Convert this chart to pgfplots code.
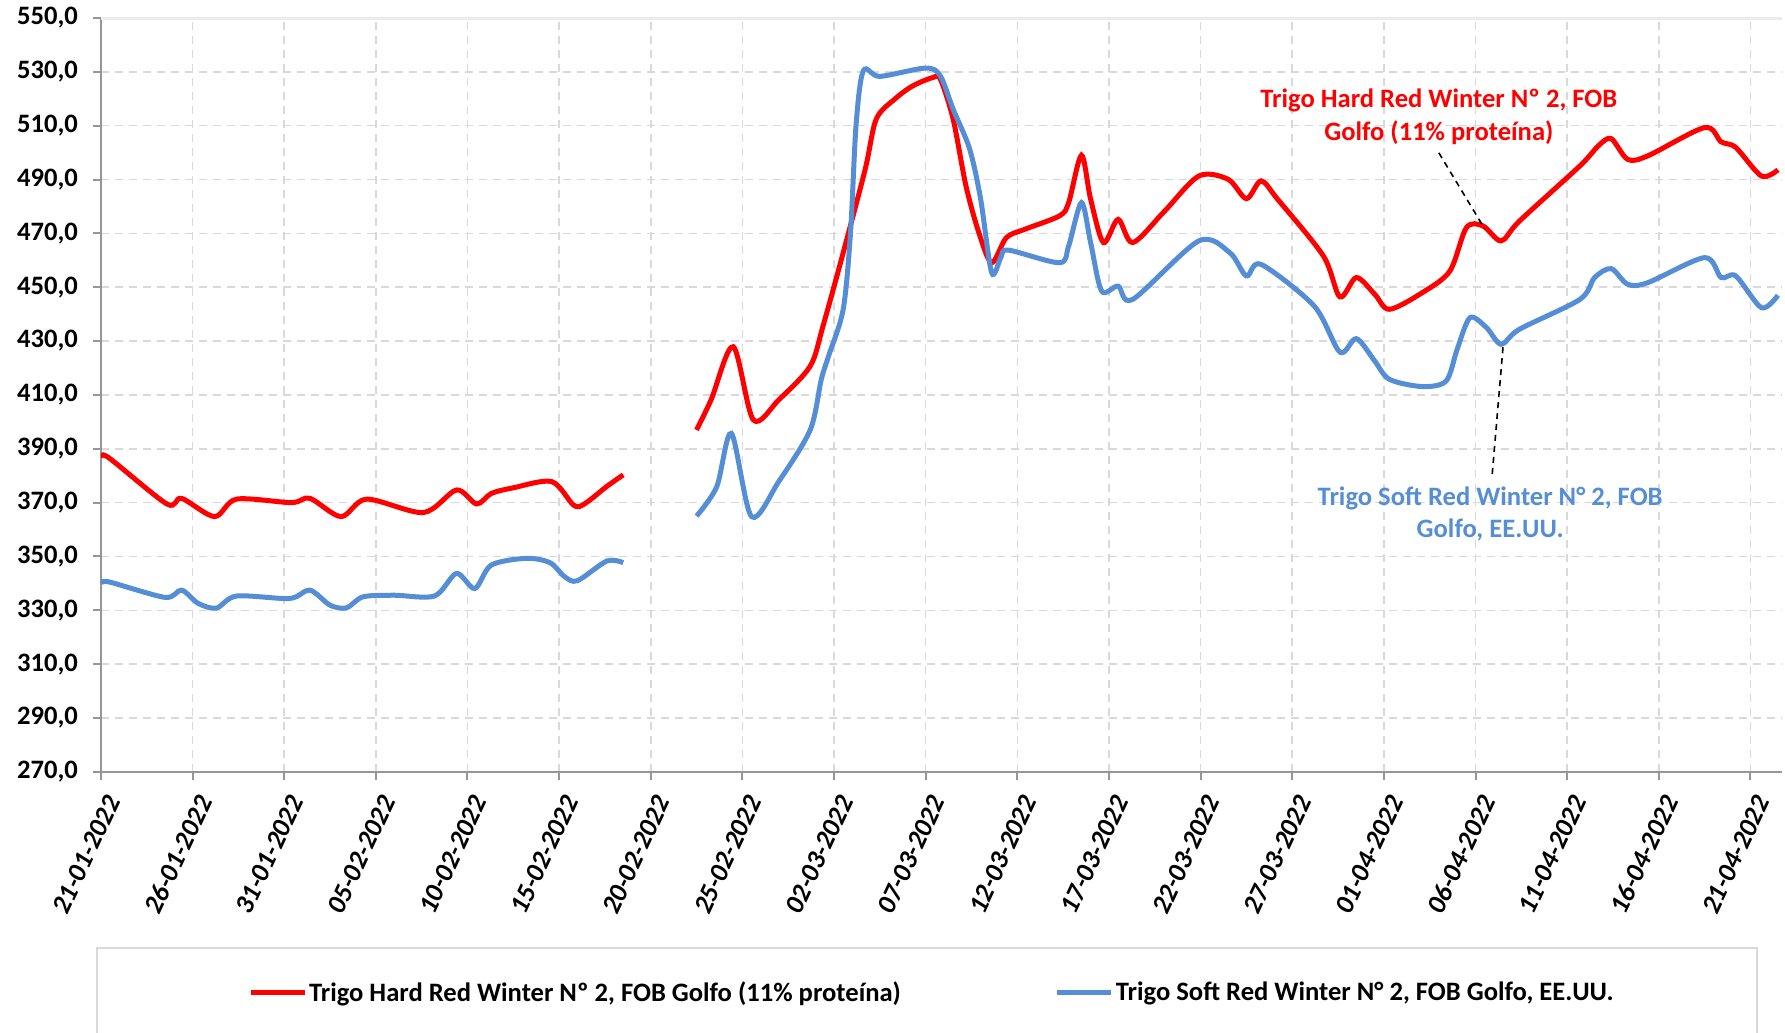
\documentclass[border=0pt]{standalone}
\usepackage{fontspec}
\setmainfont{Carlito}
\usepackage{pgfplots}
\pgfplotsset{compat=1.18}
\definecolor{hrw}{RGB}{255,0,0}
\definecolor{srw}{RGB}{85,142,213}
\definecolor{gridc}{RGB}{217,217,217}
\definecolor{axc}{RGB}{150,150,150}
\begin{document}
\begin{tikzpicture}
\begin{axis}[
  at={(0,0)}, anchor=south west,
  scale only axis, width=840.3pt, height=376.9pt,
  xmin=0, xmax=91.7, ymin=270, ymax=550,
  ytick={270,290,...,550},
  xtick={0,5,...,90},
  xticklabels={21-01-2022,26-01-2022,31-01-2022,05-02-2022,10-02-2022,15-02-2022,20-02-2022,25-02-2022,02-03-2022,07-03-2022,12-03-2022,17-03-2022,22-03-2022,27-03-2022,01-04-2022,06-04-2022,11-04-2022,16-04-2022,21-04-2022},
  axis x line*=bottom, axis y line*=left,
  axis line style={axc, line width=1pt, -},
  tick style={axc, line width=1pt},
  tick align=outside, major tick length=4pt,
  grid=major, major grid style={gridc, dash pattern=on 4pt off 3pt, line width=0.8pt},
  yticklabel style={font=\fontsize{13.3}{15}\selectfont\bfseries, xshift=-4pt, /pgf/number format/.cd, fixed, fixed zerofill, precision=1, use comma, 1000 sep={}, assume math mode=true},
  xticklabel style={font=\fontsize{13.5}{15}\selectfont\bfseries\itshape, xshift=7.5pt, yshift=-5.7pt, rotate=65, anchor=east},
  legend columns=2,
  legend style={at={(0.0873,-0.2932)}, anchor=west, draw=none, fill=none, inner sep=0pt, font=\fontsize{13.3}{15}\selectfont\bfseries, nodes={inner xsep=1pt, inner ysep=0pt}, /tikz/every even column/.append style={column sep=76pt}},
  legend image code/.code={\draw[#1] (0pt,0pt) -- (27pt,0pt);},
]
\addplot[hrw, line width=2.5pt, smooth, tension=0.5] coordinates {
(0,386.5) (0.4,386.8) (3.6,369.5) (4.4,371.6) (6.2,364.8) (7.4,371.3) (10.4,370.0) (11.4,371.6) (13.1,364.8) (14.5,371.3) (17.6,366.3) (19.4,374.7) (20.5,369.5) (21.3,373.4) (22.5,375.5) (24.6,377.8) (25.8,369.0) (26.4,369.6) (27.6,376.0) (28.5,380.3)};
\addlegendentry{Trigo Hard Red Winter Nº 2, FOB Golfo (11\% proteína)}
\addplot[hrw, line width=2.5pt, smooth, tension=0.5, forget plot] coordinates {
(32.5,397.0) (33.3,408.3) (34.5,427.9) (35.6,400.7) (37.0,408.3) (38.7,420.7) (39.4,435.6) (40.5,462.8) (41.7,493.8) (42.3,512.4) (43.3,519.8) (44.3,524.8) (45.4,527.9) (45.8,527.3) (46.5,512.4) (47.2,487.6) (47.9,470.3) (48.6,459.1) (49.4,468.4) (50.4,471.5) (52.3,476.5) (52.8,481.4) (53.5,499.0) (54.0,482.7) (54.7,466.6) (55.5,475.2) (56.3,466.6) (58.0,478.0) (59.9,491.3) (61.5,490.1) (62.5,482.9) (63.3,489.5) (64.2,482.7) (66.7,461.6) (67.6,446.4) (68.5,453.6) (69.5,447.4) (70.3,441.8) (72.1,448.0) (73.6,456.0) (74.5,472.1) (75.4,472.8) (76.4,467.2) (77.4,474.6) (80.7,495.1) (81.7,502.5) (82.4,505.2) (83.3,497.5) (84.4,498.8) (87.5,509.3) (88.4,504.0) (89.2,501.9) (90.6,491.3) (91.5,493.6)};
\addplot[srw, line width=2.5pt, smooth, tension=0.5] coordinates {
(0,339.7) (0.4,340.6) (3.5,334.8) (4.4,337.5) (5.3,332.6) (6.3,330.8) (7.4,335.3) (10.3,334.4) (11.4,337.5) (12.5,331.9) (13.4,330.9) (14.3,335.0) (16.0,335.6) (18.2,335.3) (19.4,343.7) (20.4,338.1) (21.3,346.8) (23.2,349.3) (24.5,347.7) (25.3,342.5) (26.0,341.0) (27.6,348.3) (28.5,347.7)};
\addlegendentry{Trigo Soft Red Winter N° 2, FOB Golfo, EE.UU.}
\addplot[srw, line width=2.5pt, smooth, tension=0.5, forget plot] coordinates {
(32.5,365.0) (33.6,375.9) (34.4,395.7) (35.5,364.8) (37.0,378.0) (38.7,397.0) (39.3,415.6) (39.7,424.4) (40.5,441.8) (40.9,470.3) (41.2,510.0) (41.6,530.4) (42.5,528.3) (45.0,531.4) (45.8,528.5) (46.5,516.1) (47.4,501.3) (48.0,482.7) (48.6,455.4) (49.1,461.0) (49.5,463.8) (52.3,459.1) (52.8,465.3) (53.5,481.4) (54.0,466.6) (54.6,448.6) (55.5,450.4) (56.3,445.5) (59.9,467.2) (61.6,462.8) (62.5,454.2) (63.3,458.5) (66.2,443.0) (67.6,425.9) (68.5,430.9) (69.5,422.6) (70.3,415.8) (72.1,413.1) (73.4,415.2) (74.0,427.0) (74.7,438.7) (75.6,435.0) (76.4,428.8) (77.4,434.4) (80.7,445.5) (81.5,453.6) (82.4,456.9) (83.3,451.1) (84.4,451.7) (87.5,461.0) (88.4,453.6) (89.2,454.2) (90.6,442.4) (91.5,447.0)};
\draw[gridc!50, line width=2pt] (rel axis cs:0,1) -- (rel axis cs:1,1);
\node[hrw, font=\fontsize{13.3}{16.5}\selectfont\bfseries, align=center] at (axis cs:73.0,513.4) {Trigo Hard Red Winter Nº 2, FOB\\Golfo (11\% proteína)};
\node[srw, font=\fontsize{13.3}{16}\selectfont\bfseries, align=center] at (axis cs:75.8,365.7) {Trigo Soft Red Winter N° 2, FOB\\Golfo, EE.UU.};
\draw[black, dash pattern=on 3pt off 2.5pt, line width=0.8pt] (axis cs:73.0,499.9) -- (axis cs:75.5,471.7);
\draw[black, dash pattern=on 3pt off 2.5pt, line width=0.8pt] (axis cs:76.5,427.7) -- (axis cs:75.9,379.6);
\end{axis}
\draw[gridc, line width=1pt] (-1.95pt,-88.1pt) rectangle (828pt,-140pt);
\pgfresetboundingbox
\path[use as bounding box] (-50.45pt,-130.1pt) rectangle (842pt,385.9pt);
\end{tikzpicture}
\end{document}
